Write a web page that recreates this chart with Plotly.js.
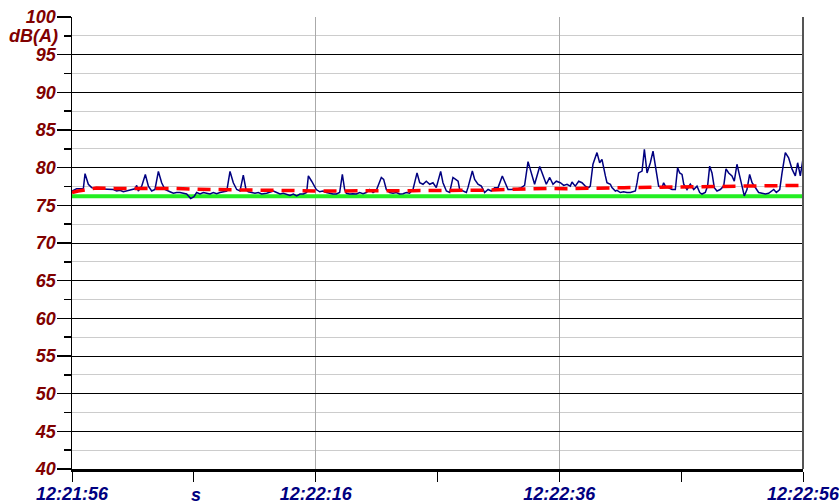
<!DOCTYPE html>
<html>
<head>
<meta charset="utf-8">
<script src="https://cdn.plot.ly/plotly-3.0.1.min.js"></script>
<style>html,body{margin:0;padding:0;background:#fff;}#chart{width:839px;height:504px;}</style>
</head>
<body>
<div id="chart"></div>
<script>
// seconds after 12:21:56
const timeSec = [0,0.38,0.93,1.07,1.34,1.61,2.02,2.57,2.85,3.39,3.67,3.94,4.21,4.49,4.76,5.17,5.31,5.44,5.72,6.02,6.27,6.54,6.81,7.09,7.36,7.63,8.04,8.32,8.59,8.86,9.41,9.74,10.01,10.23,10.51,10.78,11.05,11.33,11.6,11.87,12.15,12.42,12.7,12.97,13.24,13.52,13.79,14.06,14.28,14.47,14.75,15.02,15.29,15.57,15.98,16.25,16.53,16.8,17.07,17.35,17.62,17.89,18.17,18.44,18.71,18.99,19.26,19.4,19.67,19.95,
20.05,20.33,20.6,20.88,21.15,21.42,21.7,21.97,22.19,22.38,22.52,22.79,23.06,23.34,23.61,23.89,24.16,24.43,24.57,24.71,24.98,25.39,25.58,25.8,26.07,26.35,26.62,26.89,27.17,27.44,27.71,27.99,28.32,28.54,28.81,29.08,29.36,29.63,29.9,30.26,30.45,30.73,31.0,31.27,31.49,31.69,31.82,32.09,32.37,32.5,32.86,33.05,33.32,33.6,33.87,34.15,34.42,34.69,34.97,35.32,35.51,35.79,36.06,36.33,36.61,36.88,37.15,37.43,37.7,37.97,38.39,38.66,38.93,39.21,39.48,39.75,
40.08,40.36,40.63,40.9,41.04,41.18,41.31,41.59,41.86,42.13,42.41,42.54,42.76,43.09,43.31,43.5,43.64,43.78,43.91,44.19,44.32,44.46,44.6,44.73,45.01,45.28,45.55,45.83,46.24,46.38,46.51,46.79,46.98,47.2,47.47,47.69,47.88,48.02,48.15,48.43,48.56,48.7,48.97,49.25,49.52,49.71,49.88,50.07,50.21,50.48,50.75,51.03,51.3,51.52,51.71,51.98,52.17,52.34,52.53,52.72,52.94,53.21,53.49,53.68,53.9,54.17,54.36,54.58,54.8,54.99,55.18,55.4,55.62,55.82,56.09,56.36,56.64,56.91,57.18,57.46,57.6,57.81,58.09,58.28,58.55,58.82,59.1,59.37,59.56,59.78,60.0];
const levelDb = [76.9,77.2,77.2,79.2,77.8,77.35,77.2,77.2,77.1,77.1,76.9,77.0,76.8,76.9,77.0,77.2,77.65,76.9,77.55,79.1,77.55,76.9,77.1,79.5,78.0,77.1,76.8,76.6,76.7,76.7,76.5,75.9,76.15,76.7,76.5,76.7,76.6,76.5,76.7,76.55,76.7,76.8,76.9,79.5,78.0,77.1,76.9,79.0,77.1,76.8,76.7,76.6,76.7,76.5,76.6,76.7,76.9,76.7,76.5,76.6,76.5,76.3,76.5,76.25,76.5,76.5,76.7,78.9,78.2,77.35,
77.1,76.8,76.9,76.7,76.6,76.5,76.5,76.7,79.1,77.1,76.6,76.5,76.55,76.5,76.7,76.55,76.7,77.1,76.9,76.7,77.0,78.7,78.45,77.1,76.7,76.6,76.7,76.5,76.55,76.7,76.6,77.1,79.3,78.0,77.8,78.2,77.8,78.0,77.35,79.5,78.0,76.9,76.7,78.7,78.45,78.2,77.1,76.9,76.7,77.35,79.55,78.45,77.8,77.55,76.7,77.1,76.9,77.35,77.35,78.9,78.2,77.1,77.1,77.1,77.2,77.35,77.65,80.8,79.3,77.8,80.15,78.9,77.8,78.7,77.8,78.2,
78.0,77.65,77.8,77.55,78.1,77.8,77.55,78.2,78.0,77.55,77.35,77.55,80.45,82.0,80.65,81.1,80.2,78.9,78.0,77.8,77.35,77.1,76.9,77.0,76.7,76.8,76.7,76.7,76.9,78.0,79.3,79.55,82.45,79.3,80.65,82.2,80.2,78.45,77.55,77.35,78.0,77.55,77.35,77.1,77.1,80.0,79.3,79.1,77.8,77.1,77.8,77.1,77.55,76.7,76.5,76.7,77.55,80.2,79.3,77.35,76.9,77.1,77.55,79.85,79.3,78.9,78.2,80.45,78.9,77.35,76.25,77.1,79.1,78.0,77.35,76.7,76.6,76.5,76.6,76.9,77.1,76.7,77.1,79.3,82.0,81.3,79.8,78.9,80.65,78.9,81.2];

// running average (red dashed)
const avgTime = [0,0.5,2,3.5,8,11.3,16.3,19,20.6,28,33.5,39,40.6,45.3,50.7,56.2,60];
const avgDb   = [76.7,76.9,77.3,77.25,77.25,77.1,77.0,76.95,76.9,76.95,77.0,77.25,77.2,77.35,77.5,77.6,77.65];

// reference level (green)
const refTime = [0,60];
const refDb = [76.2,76.2];

const xTickVals = [0,20,40,60];
const xTickText = ["12:21:56","12:22:16","12:22:36","12:22:56"];
const xMinorVals = [10,30,50];
const xUnitLabel = "s"; const xUnitPos = 10;
const yUnitLabel = "dB(A)"; const yUnitPos = 97.5;

const red = '#800000', navy = '#000080';
const fontY = {family:'Liberation Sans, Arial, sans-serif', size:18, color:red, weight:'bold', style:'italic'};
const fontX = {family:'Liberation Sans, Arial, sans-serif', size:18, color:navy, weight:'bold', style:'italic'};

const traces = [
  {x:refTime, y:refDb, mode:'lines', line:{color:'#22ee22', width:4}, hoverinfo:'skip', cliponaxis:false},
  {x:timeSec, y:levelDb, mode:'lines', line:{color:'#000080', width:1.5}, hoverinfo:'skip'},
  {x:avgTime, y:avgDb, mode:'lines', line:{color:'#ff0000', width:3.5, dash:'13px,8px'}, hoverinfo:'skip'}
];

const layout = {
  width:839, height:504,
  margin:{l:72, r:36, t:17, b:35},
  paper_bgcolor:'#fff', plot_bgcolor:'#fff',
  showlegend:false,
  xaxis:{
    range:[0,60], tickmode:'array', tickvals:xTickVals, ticktext:xTickText,
    ticks:'outside', ticklen:10, tickcolor:'#000', tickwidth:1,
    ticklabelstandoff:-4, ticklabeloverflow:'allow',
    showgrid:true, gridcolor:'#aaaaaa', gridwidth:1.5,
    showline:true, linecolor:'#000', linewidth:3,
    zeroline:false, tickfont:fontX,
    minor:{tickmode:'array', tickvals:xMinorVals, ticks:'outside', ticklen:10, tickcolor:'#000', showgrid:false}
  },
  yaxis:{
    range:[40,100], tickmode:'linear', tick0:40, dtick:5,
    ticks:'outside', ticklen:14, tickcolor:'#000', tickwidth:1.5,
    ticklabelstandoff:-3,
    showgrid:true, gridcolor:'#000', gridwidth:1,
    showline:true, linecolor:'#000', linewidth:1.5,
    zeroline:false, tickfont:fontY,
    minor:{dtick:2.5, ticks:'outside', ticklen:7, tickcolor:'#000', showgrid:true, gridcolor:'#cccccc', gridwidth:1}
  },
  shapes:[
    {type:'line', xref:'paper', yref:'paper', x0:1, x1:1, y0:0, y1:1, line:{color:'#555', width:2}}
  ],
  annotations:[
    {text:yUnitLabel, xref:'paper', x:0, xanchor:'right', xshift:-12, yref:'y', y:yUnitPos, yanchor:'middle', showarrow:false, font:fontY},
    {text:xUnitLabel, xref:'x', x:xUnitPos, xanchor:'center', xshift:2, yref:'paper', y:0, yanchor:'top', yshift:-14, showarrow:false, font:fontX}
  ]
};

Plotly.newPlot('chart', traces, layout, {staticPlot:true, displayModeBar:false});
</script>
</body>
</html>
